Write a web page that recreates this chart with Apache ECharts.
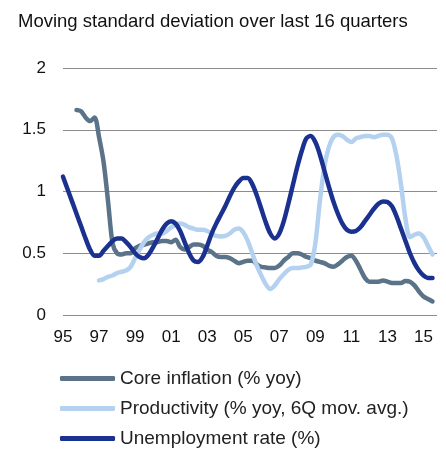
<!DOCTYPE html>
<html>
<head>
<meta charset="utf-8">
<script src="https://cdn.jsdelivr.net/npm/echarts@6/dist/echarts.min.js"></script>
<style>
  html, body { margin: 0; padding: 0; background: #fff; }
  #chart { width: 446px; height: 449px; }
</style>
</head>
<body>
<div id="chart"></div>
<script>
// years on the axis, one category per quarter
const years = ['95', '96', '97', '98', '99', '00', '01', '02', '03', '04', '05',
  '06', '07', '08', '09', '10', '11', '12', '13', '14', '15']

// core inflation, starts 95Q4
const coreInflation = [null, null, null,
  1.66, 1.65, 1.60, 1.57, 1.60, 1.44, 1.24, 0.92, 0.58, 0.50, 0.49,
  0.50, 0.50, 0.54, 0.56, 0.57, 0.58, 0.59, 0.59, 0.60, 0.60, 0.59,
  0.61, 0.55, 0.53, 0.55, 0.57, 0.57, 0.56, 0.53, 0.51, 0.48, 0.47,
  0.47, 0.46, 0.44, 0.42, 0.43, 0.44, 0.44, 0.41, 0.39, 0.385, 0.38,
  0.38, 0.40, 0.44, 0.47, 0.50, 0.50, 0.49, 0.47, 0.46, 0.44, 0.43,
  0.42, 0.40, 0.39, 0.41, 0.44, 0.47, 0.48, 0.44, 0.37, 0.30, 0.27,
  0.27, 0.27, 0.28, 0.27, 0.26, 0.26, 0.26, 0.275, 0.27, 0.24, 0.19,
  0.15, 0.13, 0.11]

// productivity, starts 97Q1
const productivity = [null, null, null, null, null, null, null, null,
  0.28, 0.29, 0.31, 0.32, 0.34, 0.35, 0.36, 0.39, 0.46, 0.53, 0.59,
  0.63, 0.65, 0.66, 0.66, 0.68, 0.71, 0.73, 0.74, 0.73, 0.71, 0.70,
  0.69, 0.69, 0.68, 0.66, 0.64, 0.635, 0.64, 0.66, 0.69, 0.70, 0.67,
  0.60, 0.50, 0.40, 0.32, 0.25, 0.21, 0.24, 0.29, 0.33, 0.365, 0.38,
  0.38, 0.385, 0.39, 0.41, 0.58, 0.92, 1.20, 1.36, 1.44, 1.46, 1.45,
  1.42, 1.40, 1.43, 1.44, 1.45, 1.45, 1.44, 1.45, 1.46, 1.46, 1.43,
  1.29, 1.06, 0.78, 0.63, 0.65, 0.66, 0.63, 0.56, 0.49]

// unemployment rate, starts 95Q1
const unemployment = [1.12, 1.02, 0.92, 0.82, 0.72, 0.62, 0.53, 0.48,
  0.48, 0.52, 0.56, 0.60, 0.62, 0.62, 0.59, 0.55, 0.50, 0.47, 0.46,
  0.49, 0.55, 0.62, 0.69, 0.74, 0.76, 0.74, 0.68, 0.59, 0.50, 0.44,
  0.43, 0.47, 0.56, 0.66, 0.74, 0.81, 0.88, 0.96, 1.03, 1.08, 1.11,
  1.11, 1.06, 0.97, 0.86, 0.75, 0.66, 0.62, 0.66, 0.76, 0.90, 1.05,
  1.20, 1.33, 1.43, 1.45, 1.40, 1.30, 1.17, 1.04, 0.92, 0.82, 0.74,
  0.69, 0.675, 0.68, 0.71, 0.76, 0.81, 0.86, 0.90, 0.92, 0.915, 0.88,
  0.80, 0.70, 0.60, 0.50, 0.42, 0.36, 0.32, 0.30, 0.30]

const seriesNames = ['Core inflation (% yoy)', 'Productivity (% yoy, 6Q mov. avg.)', 'Unemployment rate (%)']
const colors = ['#5a7389', '#b4d2f0', '#1b3190']

let quarters = []
years.forEach(function (y) {
  for (let q = 1; q <= 4; q++) quarters.push(y + 'Q' + q)
})

const font = 'Liberation Sans, Arial, sans-serif'

function lineSeries(name, data, color) {
  return {
    name: name,
    type: 'line',
    data: data,
    smooth: 0.3,
    symbol: 'none',
    connectNulls: false,
    lineStyle: { color: color, width: 4.5, cap: 'round', join: 'round' },
    itemStyle: { color: color }
  }
}

const chart = echarts.init(document.getElementById('chart'), null, { renderer: 'canvas' })
chart.setOption({
  animation: false,
  color: colors,
  title: {
    text: 'Moving standard deviation over last 16 quarters',
    left: 18,
    top: 12,
    padding: 0,
    textStyle: { fontFamily: font, fontSize: 18.5, fontWeight: 'normal', color: '#111' }
  },
  grid: { left: 63, right: 9, top: 68, bottom: 134, containLabel: false },
  xAxis: {
    type: 'category',
    data: quarters,
    boundaryGap: false,
    axisLine: { show: false },
    axisTick: { show: false },
    axisLabel: {
      interval: function (index) { return index % 8 === 0 },
      formatter: function (v) { return v.slice(0, 2) },
      margin: 14,
      fontFamily: font,
      fontSize: 17,
      color: '#111'
    }
  },
  yAxis: {
    type: 'value',
    min: 0,
    max: 2,
    interval: 0.5,
    axisLine: { show: false },
    axisTick: { show: false },
    axisLabel: { margin: 17, fontFamily: font, fontSize: 17, color: '#111' },
    splitLine: { lineStyle: { color: '#8c8c8c', width: 1 } }
  },
  legend: {
    orient: 'vertical',
    left: 60,
    top: 369,
    height: 110,
    icon: 'roundRect',
    itemWidth: 55,
    itemHeight: 5,
    itemGap: 11,
    padding: 0,
    textStyle: { fontFamily: font, fontSize: 19, color: '#222' },
    data: seriesNames
  },
  series: [
    lineSeries(seriesNames[0], coreInflation, colors[0]),
    lineSeries(seriesNames[1], productivity, colors[1]),
    lineSeries(seriesNames[2], unemployment, colors[2])
  ]
})
</script>
</body>
</html>
